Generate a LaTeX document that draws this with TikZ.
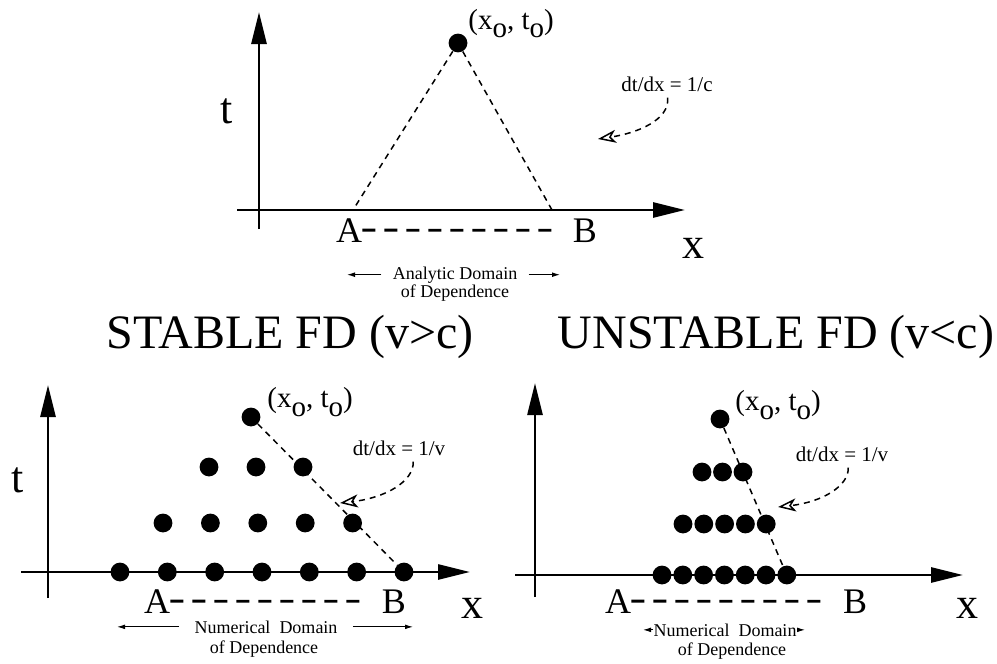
\documentclass[tikz,border=0pt]{standalone}
\usepackage{fontspec}
\setmainfont{Liberation Serif}
\usetikzlibrary{arrows.meta,positioning}

\newcommand{\lowo}{\raisebox{-4.5pt}{o}}

\begin{document}
\begin{tikzpicture}[x=0.5pt, y=-0.5pt,
      axis/.style={-{Triangle[length=16pt,width=7.5pt]}, line width=1.3pt},
      dot/.style={circle, fill, inner sep=0pt, minimum size=9.4pt},
      cone/.style={dash pattern=on 3pt off 2.5pt, line width=0.75pt},
      span/.style={dash pattern=on 6.5pt off 4.5pt, line width=1.4pt, shorten >=8pt},
      slope/.style={-{Stealth[open,length=9pt,width=6.5pt,inset=2.5pt]}, dash pattern=on 3pt off 2.5pt, line width=0.75pt, shorten <=3pt},
      dom/.style={-{Latex[length=4pt,width=2.4pt]}, line width=0.5pt},
      big/.style={font=\fontsize{22}{22}\selectfont, inner sep=0pt, anchor=base},
      ab/.style={font=\fontsize{18}{18}\selectfont, inner sep=0pt, anchor=base},
      point/.style={font=\fontsize{14.5}{14.5}\selectfont, inner sep=0pt, anchor=base west},
      note/.style={font=\fontsize{10.5}{10.5}\selectfont, inner sep=0pt, anchor=base},
      small/.style={font=\fontsize{9}{9}\selectfont, inner sep=0pt, anchor=base},
      title/.style={font=\fontsize{24}{24}\selectfont, inner sep=0pt, anchor=base},
    ]
    \useasboundingbox (0,0) rectangle (997,664);

    % analytic picture
    \coordinate (ya) at (259,229);
    \coordinate (yb) at (259,12);
    \coordinate (xa) at (237,210);
    \coordinate (xb) at (685,210);
    \draw[axis] (ya) -- (yb);
    \draw[axis] (xa) -- (xb);
    \node[dot] (p0) at (458,43) {};
    \node[point] (lp0) at (468,29) {(x\lowo, t\lowo)};
    \coordinate (foota) at (353,210);
    \coordinate (footb) at (552,210);
    \draw[cone] (p0) -- (foota);
    \draw[cone] (p0) -- (footb);
    \node[big] (t0) at (227,123) {t};
    \node[big] (x0) at (693,258) {x};
    \node[ab] (A0) at (349,242) {A};
    \node[ab] (B0) at (585,242) {B};
    \draw[span] (A0.east) -- (B0.west);
    \node[note] (s0) at (667,91) {dt/dx = 1/c};
    \coordinate (e0) at (598,139);
    \draw[slope] (s0.south) .. controls +(3,28) and +(40,-6) .. (e0);
    \node[small] (d0) at (455,279) {Analytic Domain};
    \node[small] (d0b) at (455,297) {of Dependence};
    \coordinate (dl0) at (347,275);
    \coordinate (dr0) at (560,275);
    \draw[dom, shorten <=5.5pt] (d0.west) -- (d0.west -| dl0);
    \draw[dom, shorten <=5.5pt] (d0.east) -- (d0.east -| dr0);

    % stable scheme
    \node[title] (st) at (290,348) {STABLE FD (v>c)};
    \coordinate (ya) at (48,598);
    \coordinate (yb) at (48,385);
    \coordinate (xa) at (21,572);
    \coordinate (xb) at (470,572);
    \draw[axis] (ya) -- (yb);
    \draw[axis] (xa) -- (xb);
    \foreach \i in {0,...,6}
      \node[dot] (q0\i) at (120+47.33*\i,572) {};
    \foreach \i in {0,...,4}
      \node[dot] (q1\i) at (163+47.4*\i,523) {};
    \foreach \i in {0,...,2}
      \node[dot] (q2\i) at (209+47*\i,467) {};
    \node[dot] (q3) at (251,417) {};
    \draw[cone] (q3) -- (q06);
    \node[point] (lq3) at (267,407) {(x\lowo, t\lowo)};
    \node[big] (t1) at (18,492) {t};
    \node[big] (x1) at (472,618) {x};
    \node[ab] (A1) at (157,613) {A};
    \node[ab] (B1) at (394,613) {B};
    \draw[span] (A1.east) -- (B1.west);
    \node[note] (s1) at (399,455) {dt/dx = 1/v};
    \coordinate (e1) at (340,503);
    \draw[slope] ([xshift=7pt]s1.south) .. controls +(1,26) and +(45,-5) .. (e1);
    \node[small] (d1) at (266,633) {Numerical~~Domain};
    \node[small] (d1b) at (264,653) {of Dependence};
    \coordinate (dl1) at (117,628);
    \coordinate (dr1) at (413,628);
    \draw[dom, shorten <=7.5pt] (d1.west) -- (d1.west -| dl1);
    \draw[dom, shorten <=7.5pt] (d1.east) -- (d1.east -| dr1);

    % unstable scheme
    \node[title] (un) at (776,348) {UNSTABLE FD (v<c)};
    \coordinate (ya) at (535,597);
    \coordinate (yb) at (535,383);
    \coordinate (xa) at (515,575);
    \coordinate (xb) at (963,575);
    \draw[axis] (ya) -- (yb);
    \draw[axis] (xa) -- (xb);
    \foreach \i in {0,...,6}
      \node[dot] (r0\i) at (662+20.8*\i,575) {};
    \foreach \i in {0,...,4}
      \node[dot] (r1\i) at (683+20.8*\i,524) {};
    \foreach \i in {0,...,2}
      \node[dot] (r2\i) at (702+20.5*\i,472) {};
    \node[dot] (r3) at (720,419) {};
    \draw[cone] (r3) -- (r06);
    \node[point] (lr3) at (735,410) {(x\lowo, t\lowo)};
    \node[big] (x2) at (967,618) {x};
    \node[ab] (A2) at (618,613) {A};
    \node[ab] (B2) at (855,613) {B};
    \draw[span] (A2.east) -- (B2.west);
    \node[note] (s2) at (842,461) {dt/dx = 1/v};
    \coordinate (e2) at (778,507);
    \draw[slope] ([xshift=3pt]s2.south) .. controls +(1,24) and +(45,-5) .. (e2);
    \node[small] (d2) at (725,636) {Numerical~~Domain};
    \node[small] (d2b) at (732,655) {of Dependence};
    \coordinate (dl2) at (643,630);
    \coordinate (dr2) at (805,630);
    \draw[dom] (d2.west) -- (d2.west -| dl2);
    \draw[dom] (d2.east) -- (d2.east -| dr2);
  \end{tikzpicture}
\end{document}
